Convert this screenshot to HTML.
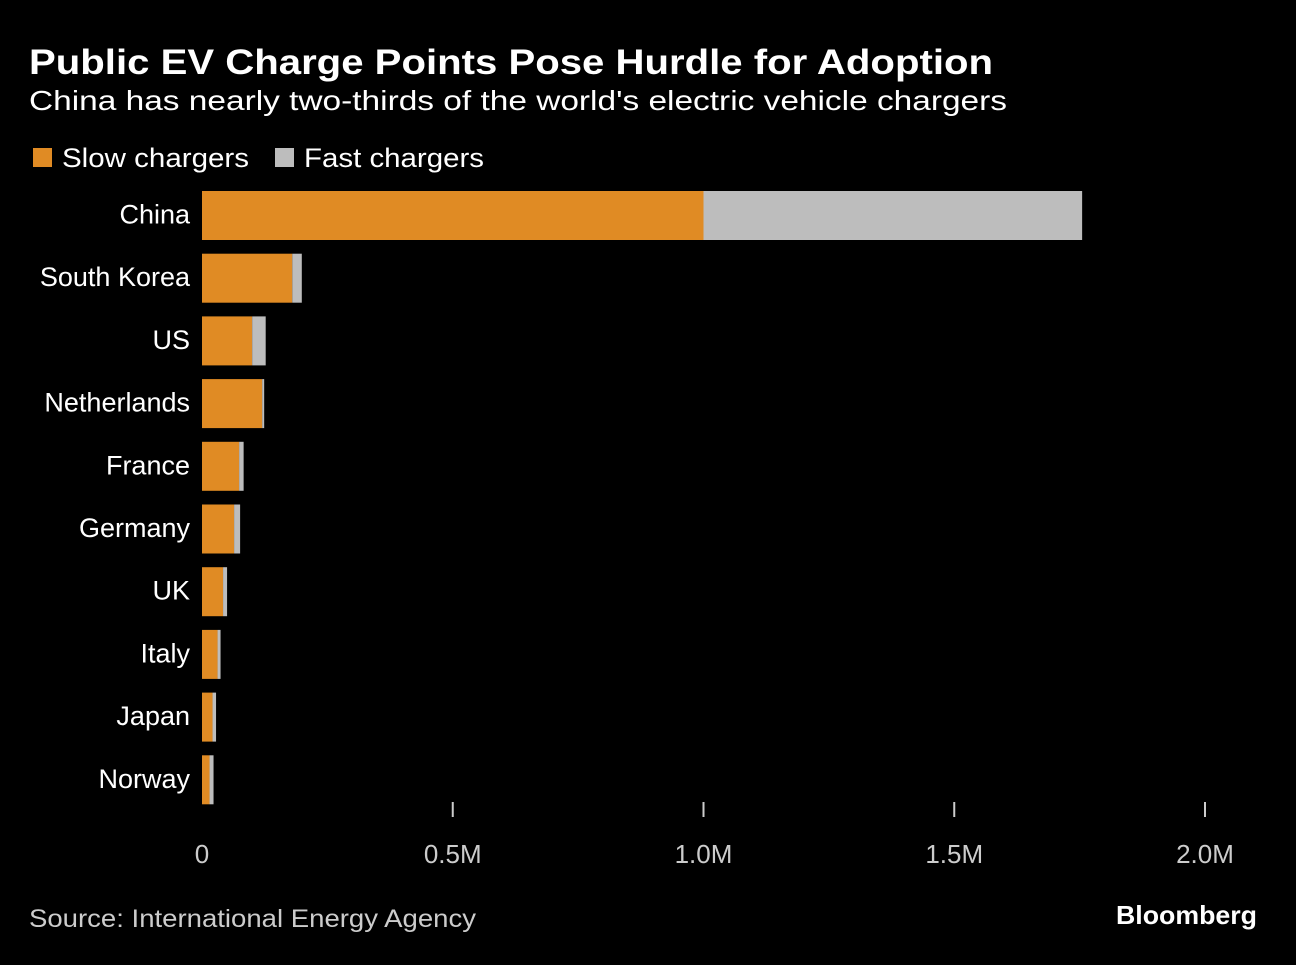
<!DOCTYPE html>
<html><head><meta charset="utf-8"><style>
body{margin:0;background:#000;width:1296px;height:960px;overflow:hidden;font-family:"Liberation Sans",sans-serif;color:#fff}
</style></head><body>
<svg width="1296" height="960" xmlns="http://www.w3.org/2000/svg">
<rect width="1296" height="960" fill="#000"/>
<text x="29" y="74" font-size="35" font-weight="bold" fill="#fff" textLength="964" lengthAdjust="spacingAndGlyphs">Public EV Charge Points Pose Hurdle for Adoption</text>
<text x="29" y="110" font-size="28" fill="#fff" textLength="978" lengthAdjust="spacingAndGlyphs">China has nearly two-thirds of the world's electric vehicle chargers</text>
<g>
<rect x="33" y="148" width="19" height="19" fill="#e08b24"/>
<text x="62" y="167" font-size="27" fill="#fff" textLength="187" lengthAdjust="spacingAndGlyphs">Slow chargers</text>
<rect x="275" y="148" width="19" height="19" fill="#bdbdbd"/>
<text x="304" y="167" font-size="27" fill="#fff" textLength="180" lengthAdjust="spacingAndGlyphs">Fast chargers</text>
</g>
<g id="bars"></g>
<g id="axis"></g>
<text x="29" y="927" font-size="25" fill="#ccc" textLength="447" lengthAdjust="spacingAndGlyphs">Source: International Energy Agency</text>
<text x="1257" y="924" font-size="26" font-weight="bold" fill="#fff" text-anchor="end" textLength="141" lengthAdjust="spacingAndGlyphs">Bloomberg</text>
</svg>
<script>
const categories=["China","South Korea","US","Netherlands","France","Germany","UK","Italy","Japan","Norway"];
const slowValues=[1.0,0.180,0.100,0.120,0.074,0.064,0.042,0.031,0.021,0.015];
const fastValues=[0.755,0.019,0.027,0.004,0.009,0.012,0.008,0.006,0.007,0.008];
const tickValues=[0,0.5,1.0,1.5,2.0];
const tickLabels=["0","0.5M","1.0M","1.5M","2.0M"];
const NS="http://www.w3.org/2000/svg";
const x=v=>202+v*501.5;
const y=i=>191+i*62.7;
const bh=49;
const bars=document.getElementById('bars');
function mk(tag,attrs,parent){const e=document.createElementNS(NS,tag);for(const k in attrs)e.setAttribute(k,attrs[k]);parent.appendChild(e);return e;}
categories.forEach((c,i)=>{
  const s=mk('rect',{x:x(0),y:y(i),width:x(slowValues[i])-x(0),height:bh,fill:'#e08b24'},bars);
  
  
  const f=mk('rect',{x:x(slowValues[i]),y:y(i),width:x(slowValues[i]+fastValues[i])-x(slowValues[i]),height:bh,fill:'#bdbdbd'},bars);
  
  
  const t=mk('text',{x:190,y:y(i)+bh/2+8,'font-size':27,fill:'#fff','text-anchor':'end'},bars);
  t.textContent=c;
  
  
});
const ax=document.getElementById('axis');
tickValues.forEach((v,i)=>{
  if(v>0){const l=mk('line',{x1:x(v),x2:x(v),y1:802,y2:817,stroke:'#ccc','stroke-width':2},ax);
  
  }
  const t=mk('text',{x:x(v),y:863,'font-size':26,fill:'#ccc','text-anchor':'middle'},ax);
  t.textContent=tickLabels[i];
  
  
});
</script>
</body></html>
